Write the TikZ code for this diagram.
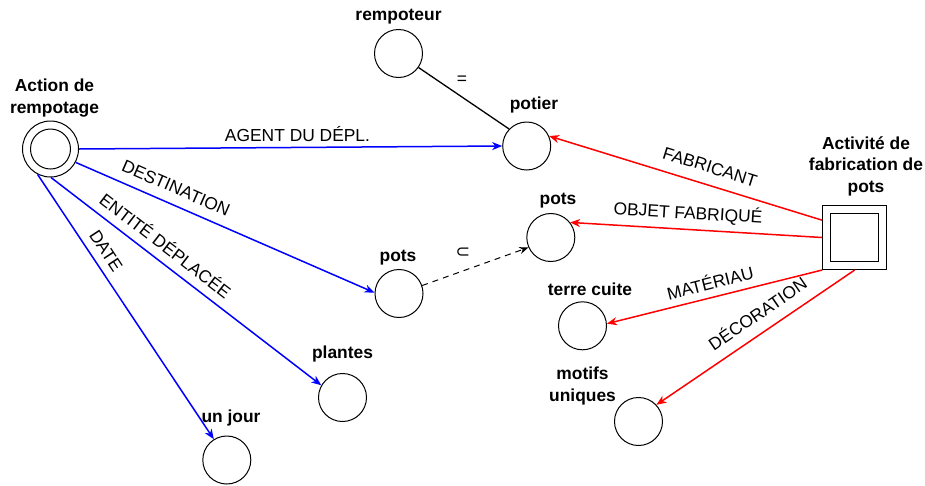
\documentclass[tikz,border=0pt]{standalone}
\usepackage{fontspec}
\setmainfont{Liberation Sans}
\newfontfamily\djvfont{DejaVu Sans}
\usetikzlibrary{arrows.meta}
\begin{document}
\begin{tikzpicture}[x=1pt,y=-1pt,
  conc/.style={circle,draw,line width=1pt,minimum size=48pt,inner sep=0pt,fill=white},
  title/.style={font=\fontsize{17.4}{21.5}\selectfont\bfseries,align=center,inner sep=0pt},
  elabel/.style={font=\fontsize{17.4}{21}\selectfont,inner sep=0pt},
  arr/.style={-{Stealth[length=10pt,width=8pt,inset=3pt]}},
  blueedge/.style={arr,draw={rgb,255:red,0;green,0;blue,255},line width=1.5pt},
  rededge/.style={arr,draw={rgb,255:red,255;green,0;blue,0},line width=1.5pt},
  plainedge/.style={draw=black,line width=1.3pt},
  dashedge/.style={draw=black,line width=1pt,dash pattern=on 6pt off 5pt,-{Stealth[length=9pt,width=7pt,inset=3pt]}}
]
\useasboundingbox (0,0) rectangle (925,485);

% concept nodes
\node[circle,draw,line width=1pt,minimum size=56pt,inner sep=0pt] (act) at (50.5,149) {};
\node[circle,draw,line width=1pt,minimum size=40pt,inner sep=0pt] (acti) at (50.5,149) {};
\node[conc] (remp) at (398.5,53.5) {};
\node[conc] (pot) at (526.7,146) {};
\node[conc] (pr) at (550.8,237.5) {};
\node[conc] (pm) at (399,293.5) {};
\node[conc] (tc) at (582.5,325.8) {};
\node[conc] (mu) at (638.5,421.5) {};
\node[conc] (pl) at (342.5,397.5) {};
\node[conc] (uj) at (226.8,460) {};
\node[rectangle,draw,line width=1pt,minimum size=64pt,inner sep=0pt] (sq) at (854.7,237.5) {};
\node[rectangle,draw,line width=1pt,minimum size=48pt,inner sep=0pt] (sqi) at (854.7,237.5) {};

% titles
\node[title] (tact) at (54.5,98) {Action de\\rempotage};
\node[title] (tremp) at (398.5,17) {rempoteur};
\node[title] (tpot) at (534,105) {potier};
\node[title] (tpr) at (558,201) {pots};
\node[title] (tpm) at (398,258) {pots};
\node[title] (ttc) at (590,289) {terre cuite};
\node[title] (tmu) at (582.5,386) {motifs\\uniques};
\node[title] (tpl) at (342.5,354) {plantes};
\node[title] (tuj) at (231,418) {un jour};
\node[title] (tsq) at (866,166) {Activité de\\fabrication de\\pots};

% edges
\draw[blueedge] (act.east) -- (pot.west);
\draw[blueedge] (act.-28) -- (pm.178);
\draw[blueedge] (act.-89) -- (pl.150);
\draw[blueedge] (act.-117) -- (uj.122);
\draw[plainedge] (remp.-35) -- (pot.136);
\draw[dashedge] (pm.19) -- (pr.204);
\draw[rededge] (sq.152) -- (pot.24);
\draw[rededge] (sq.west) -- (pr.38);
\draw[rededge] (sq.south west) -- (tc.5);
\draw[rededge] (sq.south) -- (mu.43);

% edge labels
\node[elabel] (lagent) at (297.5,134) {AGENT DU DÉPL.};
\node[elabel,rotate=-23.6] (ldest) at (176,188) {DESTINATION};
\node[elabel,rotate=-37.5] (lent) at (166,245) {ENTITÉ DÉPLACÉE};
\node[elabel,rotate=-56.6] (ldate) at (106,251) {DATE};
\node[elabel] (leq) at (462,80) {=};
\node[elabel,font=\fontsize{17.4}{21}\djvfont] (lsub) at (463,253) {⊂};
\node[elabel,rotate=-17.4] (lfab) at (710,167) {FABRICANT};
\node[elabel,rotate=-3.5] (lobj) at (688,213) {OBJET FABRIQUÉ};
\node[elabel,rotate=14.3] (lmat) at (710,282) {MATÉRIAU};
\node[elabel,rotate=34.4] (ldec) at (757,313) {DÉCORATION};
\end{tikzpicture}
\end{document}
